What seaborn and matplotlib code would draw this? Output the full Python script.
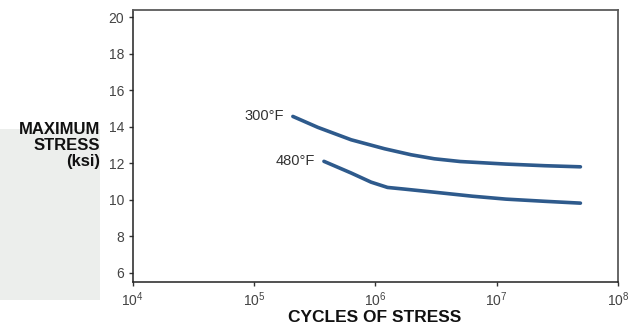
import matplotlib
matplotlib.use("Agg")
import matplotlib.pyplot as plt
import seaborn as sns
import pandas as pd
from matplotlib.patches import Rectangle

# Data
cycles_300 = [2.09e5, 3.36e5, 6.32e5, 1.19e6, 1.97e6, 3.06e6, 5.0e6, 1.19e7, 2.5e7, 4.9e7]
stress_300 = [14.57, 13.97, 13.29, 12.80, 12.47, 12.25, 12.10, 11.96, 11.87, 11.81]
cycles_480 = [3.77e5, 6.32e5, 9.22e5, 1.26e6, 1.73e6, 3.06e6, 6.3e6, 1.19e7, 2.5e7, 4.9e7]
stress_480 = [12.11, 11.47, 10.97, 10.68, 10.59, 10.42, 10.20, 10.04, 9.92, 9.82]
series_labels = ["300°F", "480°F"]
y_ticks = [6, 8, 10, 12, 14, 16, 18, 20]
x_ticks = [1e4, 1e5, 1e6, 1e7, 1e8]
x_tick_labels = ["$10^4$", "$10^5$", "$10^6$", "$10^7$", "$10^8$"]

df = pd.concat([
    pd.DataFrame({"cycles": cycles_300, "stress": stress_300, "temp": series_labels[0]}),
    pd.DataFrame({"cycles": cycles_480, "stress": stress_480, "temp": series_labels[1]}),
])

sns.set_theme(style="white")
plt.rcParams["font.family"] = ["Liberation Sans", "DejaVu Sans"]
plt.rcParams["mathtext.fontset"] = "custom"
plt.rcParams["mathtext.rm"] = "Liberation Sans"
plt.rcParams["mathtext.it"] = "Liberation Sans"

fig = plt.figure(figsize=(6.42, 3.26), dpi=100)
fig.patch.set_facecolor("white")

# grey panel behind the y label
fig.patches.append(Rectangle((0, 1 - 300 / 326), 100 / 642, (300 - 129) / 326,
                             transform=fig.transFigure, facecolor="#ECEEEC",
                             edgecolor="none", zorder=0))

ax = fig.add_axes([132.7 / 642, 1 - 282 / 326, (618 - 132.7) / 642, (282 - 10) / 326])
line_color = "#2E5A8C"
sns.lineplot(data=df, x="cycles", y="stress", units="temp", estimator=None,
             color=line_color, linewidth=2.6, ax=ax, sort=False)
ax.set_xscale("log")
ax.set_xlim(1e4, 1e8)
ax.set_ylim(5.5, 20.4)
ax.set_xticks(x_ticks)
ax.set_xticklabels(x_tick_labels)
ax.minorticks_off()
ax.set_yticks(y_ticks)
ax.set_xlabel("")
ax.set_ylabel("")
ax.tick_params(axis="both", direction="out", length=3, width=1, color="#333333",
               labelsize=10, labelcolor="#444444", pad=3, bottom=True, left=True)
for side in ["left", "bottom"]:
    ax.spines[side].set_color("#222222")
    ax.spines[side].set_linewidth(1.1)
for side in ["top", "right"]:
    ax.spines[side].set_color("#5a5a5a")
    ax.spines[side].set_linewidth(1.3)

# curve labels
ax.text(cycles_300[0] * 0.85, stress_300[0], series_labels[0], ha="right", va="center",
        fontsize=10.5, color="#333333")
ax.text(cycles_480[0] * 0.85, stress_480[0], series_labels[1], ha="right", va="center",
        fontsize=10.5, color="#333333")

fig.text(100 / 642, 1 - 145.5 / 326, "MAXIMUM\nSTRESS\n(ksi)", ha="right", va="center",
         multialignment="right", fontsize=12, fontweight="bold", color="#111111",
         linespacing=1.1)
fig.text(375 / 642, 1 - 318 / 326, "CYCLES OF STRESS", ha="center", va="center",
         fontsize=12.5, fontweight="bold", color="#111111")

fig.savefig("out.png", dpi=100, facecolor="white")
